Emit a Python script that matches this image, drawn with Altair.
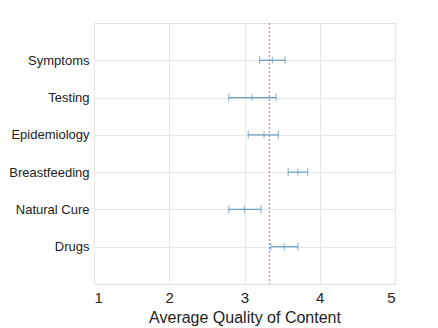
import altair as alt
import pandas as pd

categories = ["Symptoms", "Testing", "Epidemiology", "Breastfeeding", "Natural Cure", "Drugs"]
means = [3.37, 3.10, 3.26, 3.71, 3.00, 3.53]
lows = [3.20, 2.79, 3.05, 3.58, 2.79, 3.35]
highs = [3.54, 3.42, 3.45, 3.84, 3.22, 3.71]
overall_mean = 3.33
x_ticks = [1, 2, 3, 4, 5]

n = len(categories)
df = pd.DataFrame({
    "cat": categories,
    "pos": [n - i for i in range(n)],
    "mean": means,
    "low": lows,
    "high": highs,
})
ref = pd.DataFrame({"m": [overall_mean]})

label_map = {str(n - i): c for i, c in enumerate(categories)}
label_expr = "{" + ",".join(f"'{k}':'{v}'" for k, v in label_map.items()) + "}[datum.value]"

FONT = "Liberation Sans"
COLOR = "#6a9ec0"

xs = alt.X("low:Q", scale=alt.Scale(domain=[1, 5], nice=False),
           axis=alt.Axis(values=x_ticks, title="Average Quality of Content", format="d",
                         grid=True, gridColor="#e6e6e6", ticks=False, domain=False,
                         labelFont=FONT, labelFontSize=15, labelColor="#222",
                         labelPadding=6, titleFont=FONT, titleFontSize=16,
                         titleFontWeight="normal", titleColor="#222", titlePadding=4))
ys = alt.Y("pos:Q", scale=alt.Scale(domain=[0, 7], nice=False),
           axis=alt.Axis(values=list(range(1, n + 1)), labelExpr=label_expr, title=None,
                         grid=True, gridColor="#e6e6e6", ticks=False, domain=False,
                         labelFont=FONT, labelFontSize=13, labelColor="#222",
                         labelPadding=5))

base = alt.Chart(df)
bars = base.mark_rule(color=COLOR, strokeWidth=1.2).encode(x=xs, x2="high:Q", y=ys)
cap_lo = base.mark_tick(color=COLOR, orient="vertical", size=8, thickness=1.2).encode(x="low:Q", y="pos:Q")
cap_hi = base.mark_tick(color=COLOR, orient="vertical", size=8, thickness=1.2).encode(x="high:Q", y="pos:Q")
mid = base.mark_tick(color=COLOR, orient="vertical", size=7, thickness=1.2).encode(x="mean:Q", y="pos:Q")
rule = alt.Chart(ref).mark_rule(color="#cc55dd", strokeDash=[2, 2], strokeWidth=1).encode(x="m:Q")

chart = alt.layer(bars, cap_lo, cap_hi, mid, rule).properties(
    width=301, height=261,
    autosize=alt.AutoSizeParams(type="none"),
    padding={"left": 86, "top": 15, "right": 30, "bottom": 44},
).configure_view(stroke="#888", strokeWidth=1.2).configure(background="white")

chart.save("out.html", embed_options={"renderer": "svg", "actions": False})
